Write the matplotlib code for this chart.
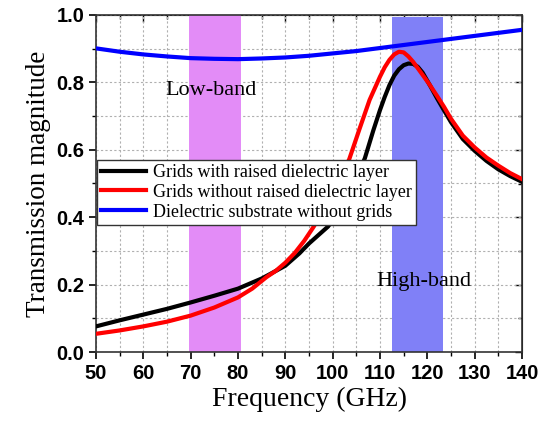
import matplotlib
matplotlib.use('Agg')
import matplotlib.pyplot as plt
from matplotlib.ticker import MultipleLocator, FormatStrFormatter

# values
freq_black = [50, 55, 60, 65, 70, 75, 80, 85, 87, 90, 93, 95, 97, 99, 101, 103, 105, 106.8, 108.6, 110,
              111, 112, 113, 114, 115, 116, 117, 118, 119, 120.6, 122, 123.4, 125, 127.5, 130, 132.5, 135,
              137.5, 140]
t_black = [0.076, 0.094, 0.111, 0.128, 0.147, 0.167, 0.188, 0.218, 0.233, 0.256, 0.293, 0.322, 0.347, 0.372,
           0.410, 0.458, 0.515, 0.575, 0.658, 0.718, 0.757, 0.792, 0.820, 0.839, 0.851, 0.856, 0.855, 0.846,
           0.829, 0.790, 0.754, 0.720, 0.682, 0.632, 0.597, 0.567, 0.542, 0.522, 0.505]

freq_red = [50, 55, 60, 65, 70, 75, 80, 83, 86, 88, 90, 92, 94, 96, 98, 100, 102, 103.5, 105.7, 107.8, 110,
            111, 112, 113, 114, 115, 116, 117, 118.2, 120.4, 122, 123.5, 125, 127.5, 130, 132.5, 135, 137.5, 140]
t_red = [0.054, 0.064, 0.076, 0.090, 0.108, 0.132, 0.162, 0.188, 0.222, 0.241, 0.265, 0.294, 0.330, 0.372,
         0.420, 0.472, 0.530, 0.572, 0.663, 0.748, 0.817, 0.845, 0.867, 0.883, 0.891, 0.889, 0.877, 0.861,
         0.838, 0.795, 0.761, 0.728, 0.692, 0.642, 0.607, 0.577, 0.553, 0.531, 0.513]

freq_blue = [50, 55, 60, 65, 70, 75, 80, 85, 90, 95, 100, 105, 110, 115, 120, 125, 130, 135, 140]
t_blue = [0.901, 0.891, 0.883, 0.877, 0.872, 0.870, 0.869, 0.871, 0.874, 0.879, 0.886, 0.893, 0.902, 0.911,
          0.920, 0.929, 0.938, 0.947, 0.956]

low_band = (69.6, 80.6)
high_band = (112.5, 123.4)

labels = ['Grids with raised dielectric layer',
          'Grids without raised dielectric layer',
          'Dielectric substrate without grids']

serif = 'Liberation Serif'

fig = plt.figure(figsize=(5.42, 4.25), dpi=100)
ax = fig.add_axes([96 / 542, 1 - 352 / 425, 426 / 542, 337 / 425])

ax.axvspan(*low_band, ymin=0, ymax=1.0, color='#e38cf7', lw=0, zorder=1)
ax.axvspan(*high_band, ymin=0, ymax=0.993, color='#8080f7', lw=0, zorder=1)

ax.plot(freq_black, t_black, color='black', lw=3, label=labels[0], zorder=3)
ax.plot(freq_red, t_red, color='red', lw=3, label=labels[1], zorder=4)
ax.plot(freq_blue, t_blue, color='blue', lw=3, label=labels[2], zorder=3)

ax.set_xlim(50, 140)
ax.set_ylim(0, 1.0)
ax.xaxis.set_major_locator(MultipleLocator(10))
ax.xaxis.set_minor_locator(MultipleLocator(5))
ax.yaxis.set_major_locator(MultipleLocator(0.2))
ax.yaxis.set_minor_locator(MultipleLocator(0.1))
ax.yaxis.set_major_formatter(FormatStrFormatter('%.1f'))
ax.grid(True, which='both', color='#b0b0b0', lw=0.8, linestyle=(0, (2, 2)), zorder=0)
ax.set_axisbelow(True)

ax.tick_params(which='major', direction='out', length=5, width=1.2, labelsize=14.5)
ax.tick_params(which='minor', direction='out', length=3, width=1.0)
for lab in ax.get_xticklabels() + ax.get_yticklabels():
    lab.set_fontfamily('Liberation Sans')
    lab.set_fontweight('bold')

# inward ticks on the top and right spines
top = ax.secondary_xaxis('top')
top.xaxis.set_major_locator(MultipleLocator(10))
top.xaxis.set_minor_locator(MultipleLocator(5))
top.tick_params(which='major', direction='in', length=5, width=1.0, labeltop=False)
top.tick_params(which='minor', direction='in', length=3, width=1.0)
right = ax.secondary_yaxis('right')
right.yaxis.set_major_locator(MultipleLocator(0.2))
right.yaxis.set_minor_locator(MultipleLocator(0.1))
right.tick_params(which='major', direction='in', length=5, width=1.0, labelright=False)
right.tick_params(which='minor', direction='in', length=3, width=1.0)

for sp in ax.spines.values():
    sp.set_linewidth(1.2)
    sp.set_color('#333333')

ax.set_xlabel('Frequency (GHz)', fontfamily=serif, fontsize=20, labelpad=3)
ax.set_ylabel('Transmission magnitude', fontfamily=serif, fontsize=19.5, labelpad=4)

ax.text(74.3, 0.775, 'Low-band', fontfamily=serif, fontsize=16, ha='center', va='center', zorder=5)
ax.text(119.3, 0.208, 'High-band', fontfamily=serif, fontsize=16, ha='center', va='center', zorder=5)

leg = ax.legend(loc='upper left', bbox_to_anchor=(0.002, 0.57), prop={'family': serif, 'size': 13},
                handlelength=2.5, handletextpad=0.4, labelspacing=0.16, borderpad=0.22,
                fancybox=False, framealpha=1, edgecolor='#333333', borderaxespad=0)
leg.get_frame().set_linewidth(1.0)
leg.set_zorder(6)

fig.savefig('out.png', dpi=100)
